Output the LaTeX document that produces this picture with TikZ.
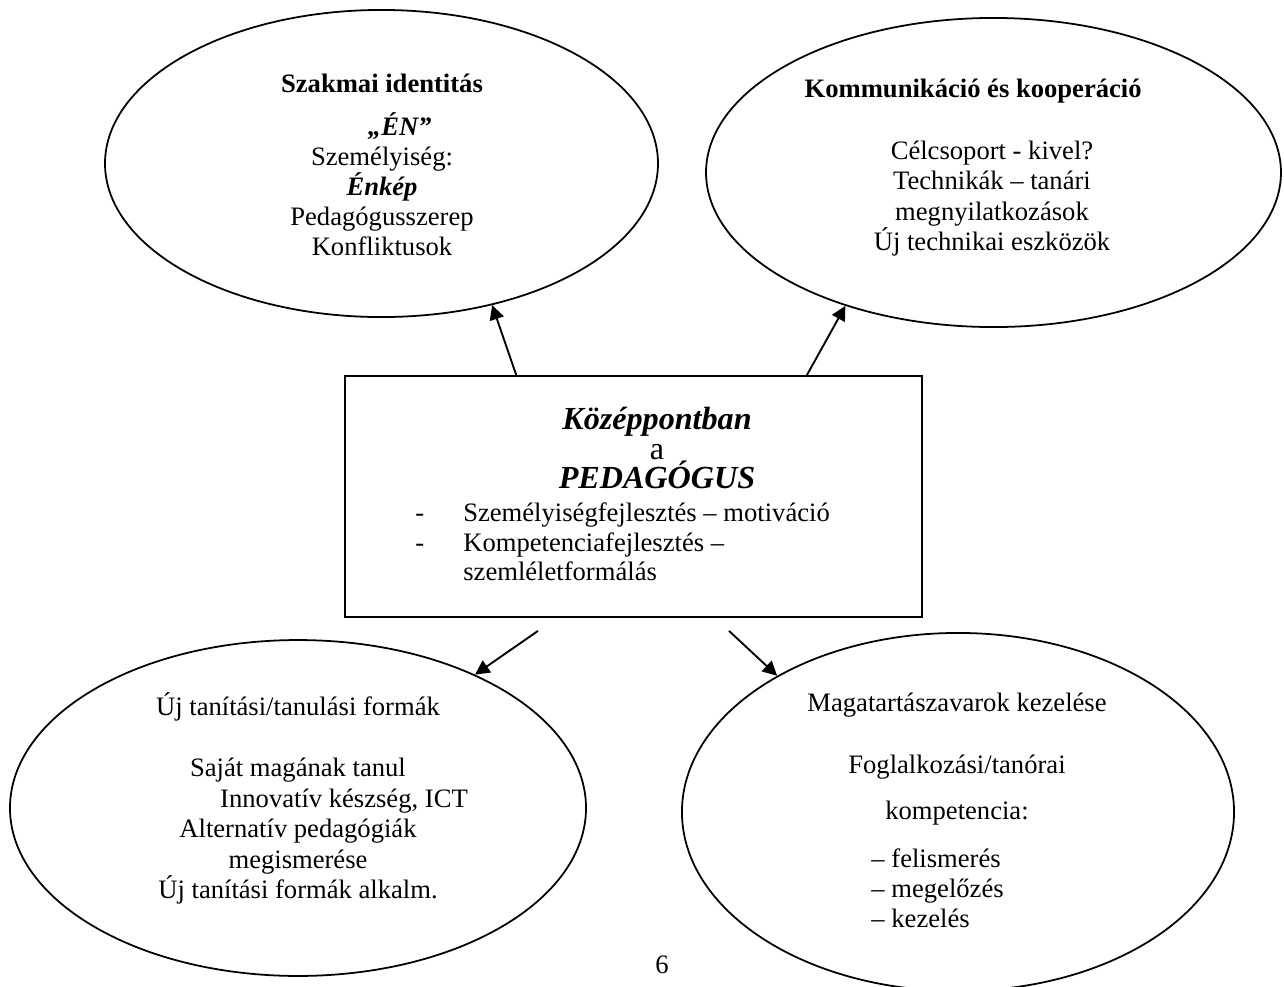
\documentclass[tikz,border=0pt]{standalone}
\usepackage{fontspec}
\setmainfont{Liberation Serif}
\usetikzlibrary{shapes.geometric,arrows.meta}

\tikzset{
  bubble/.style={draw, ellipse, line width=0.8pt, inner sep=0pt},
  corebox/.style={draw, rectangle, line width=0.8pt, inner sep=0pt,
    minimum width=260.2pt, minimum height=108.7pt},
  txt/.style={inner sep=0pt, align=center, font=\fontsize{12}{13.55}\selectfont},
  link/.style={line width=0.85pt, -{Triangle[length=6.5pt,width=6.5pt]}}
}

\begin{document}
\begin{tikzpicture}[x=0.451pt,y=-0.451pt]
        \useasboundingbox (0,0) rectangle (1284,987);
        % shapes
        \node[bubble, minimum width=249.4pt, minimum height=138.5pt] (tl) at (381.5,163.5) {};
        \node[bubble, minimum width=259.3pt, minimum height=139.4pt] (tr) at (993.5,172.5) {};
        \node[bubble, minimum width=259.8pt, minimum height=151.5pt] (bl) at (298,808) {};
        \node[bubble, minimum width=249.0pt, minimum height=161.5pt] (br) at (958,812) {};
        \node[corebox] (core) at (633.5,496.5) {};
        % texts
        \node[txt] (tltext) at (382,165) {\textbf{Szakmai identitás}\\[5.9pt]\hspace*{16pt}\textbf{\textit{„ÉN”}}\\Személyiség:\\\textbf{\textit{Énkép}}\\Pedagógusszerep\\Konfliktusok};
        \node[txt, font=\fontsize{12}{13.7}\selectfont] (trtext) at (992,167.5) {\textbf{Kommunikáció és kooperáció}\hspace*{17pt}\\[14.2pt]Célcsoport - kivel?\\Technikák – tanári\\megnyilatkozások\\Új technikai eszközök};
        \node[txt, font=\fontsize{12}{13.75}\selectfont] (bltext) at (298,798.5) {Új tanítási/tanulási formák\\[13.8pt]Saját magának tanul\\\hspace*{41.5pt}Innovatív készség, ICT\\Alternatív pedagógiák\\megismerése\\Új tanítási formák alkalm.};
        \node[txt] (brhead) at (957,759) {Magatartászavarok kezelése\\[14.5pt]Foglalkozási/tanórai\\[7.2pt]kompetencia:};
        \node[txt, align=left, anchor=west] (brlist) at (871,888) {– felismerés\\– megelőzés\\– kezelés};
        \node[txt, font=\fontsize{14.5}{13.4}\selectfont] (coretitle) at (657,448) {\textbf{\textit{Középpontban}}\\a\hspace*{22.5pt}\\\textbf{\textit{PEDAGÓGUS}}};
        \node[txt, align=left, anchor=west, font=\fontsize{12}{13.3}\selectfont] (corelist) at (415,542) {\makebox[21.6pt][l]{-}Személyiségfejlesztés – motiváció\\\makebox[21.6pt][l]{-}Kompetenciafejlesztés –\\\hspace*{21.6pt}szemléletformálás};
        \node[txt] (pagenum) at (662,965) {6};
        % arrows
        \coordinate (lstart) at ([shift={(-95.5,13)}]core.south);
        \coordinate (rstart) at ([shift={(95.5,13)}]core.south);
        \draw[link] (core.134.8) -- (tl.-52.5);
        \draw[link] (core.35.6) -- (tr.222.7);
        \draw[link] (lstart) -- (bl.37.4);
        \draw[link] (rstart) -- (br.143.3);
    \end{tikzpicture}
\end{document}
